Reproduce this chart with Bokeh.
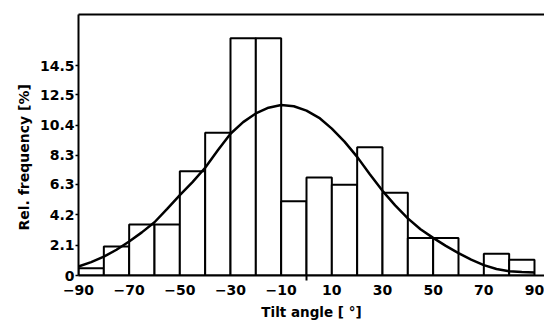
from bokeh.plotting import figure
from bokeh.models import Range1d, FixedTicker, LinearAxis, Title
from bokeh.embed import file_html
from bokeh.resources import INLINE

# Tilt angle histogram: 10-degree bins from -90 to 90, relative frequency in %
bin_edges = [-90, -80, -70, -60, -50, -40, -30, -20, -10, 0, 10, 20, 30, 40, 50, 60, 70, 80, 90]
rel_freq = [0.50, 2.00, 3.52, 3.52, 7.21, 9.86, 16.4, 16.4, 5.13,
            6.77, 6.27, 8.87, 5.72, 2.60, 2.60, 0.0, 1.50, 1.08]

# Fitted distribution curve
curve_angle = [-90, -85, -80, -75, -70, -65, -60, -55, -50, -45, -40, -35, -30, -25, -20, -15, -10, -5,
               0, 5, 10, 15, 20, 25, 30, 35, 40, 45, 50, 55, 60, 65, 70, 75, 80, 85, 90]
curve_freq = [0.62, 0.92, 1.30, 1.78, 2.35, 2.98, 3.68, 4.60, 5.55, 6.45, 7.45, 8.65, 9.80, 10.6, 11.2, 11.6, 11.78, 11.7,
              11.4, 10.9, 10.15, 9.25, 8.2, 7.0, 5.85, 4.85, 3.95, 3.2, 2.6, 2.05, 1.55, 1.1, 0.72, 0.45, 0.3, 0.24, 0.2]

x_ticks = [-90, -70, -50, -30, -10, 10, 30, 50, 70, 90]
y_ticks = [0, 2.1, 4.2, 6.3, 8.3, 10.4, 12.5, 14.5]
y_tick_labels = ["0", "2.1", "4.2", "6.3", "8.3", "10.4", "12.5", "14.5"]

FONT = "DejaVu Sans"

p = figure(width=544, height=323, output_backend="svg", toolbar_location=None,
           x_range=Range1d(-90, 93.95), y_range=Range1d(0, 18.04),
           min_border_left=78, min_border_right=0, min_border_top=14, min_border_bottom=48)
p.outline_line_color = None
p.grid.visible = False
p.background_fill_color = "white"
p.border_fill_color = "white"

p.quad(left=bin_edges[:-1], right=bin_edges[1:], bottom=0, top=rel_freq,
       fill_color="white", line_color="black", line_width=2)
p.line(curve_angle, curve_freq, line_color="black", line_width=2.5)

# bottom axis
xa = p.xaxis[0]
xa.ticker = FixedTicker(ticks=x_ticks, minor_ticks=[0])
xa.axis_line_width = 2
xa.major_tick_out = 0
xa.major_tick_in = 0
xa.minor_tick_out = 5
xa.minor_tick_in = 0
xa.minor_tick_line_width = 2
xa.major_label_standoff = 4
xa.major_label_text_font = FONT
xa.major_label_text_font_style = "bold"
xa.major_label_text_font_size = "14px"
xa.major_label_text_color = "black"
xa.axis_label = "Tilt angle [ °]"
xa.axis_label_text_font = FONT
xa.axis_label_text_font_style = "bold"
xa.axis_label_text_font_size = "13.5px"
xa.axis_label_text_color = "black"
xa.axis_label_standoff = 6

# left axis
ya = p.yaxis[0]
ya.ticker = FixedTicker(ticks=y_ticks)
ya.major_label_overrides = dict(zip(y_ticks, y_tick_labels))
ya.axis_line_width = 2
ya.major_tick_out = 3
ya.major_tick_in = 0
ya.major_tick_line_width = 1.5
ya.minor_tick_line_color = None
ya.major_label_standoff = 1
ya.major_label_text_font = FONT
ya.major_label_text_font_style = "bold"
ya.major_label_text_font_size = "14px"
ya.major_label_text_color = "black"

# top frame line (axis without ticks or labels)
top = LinearAxis(ticker=FixedTicker(ticks=[]), axis_line_width=2,
                 major_tick_line_color=None, minor_tick_line_color=None)
p.add_layout(top, "above")

p.add_layout(Title(text="Rel. frequency [%]", align="left", offset=45, text_font=FONT,
                   text_font_style="bold", text_font_size="14px", text_color="black",
                   standoff=9), "left")

open("out.html", "w").write(file_html(p, INLINE))
